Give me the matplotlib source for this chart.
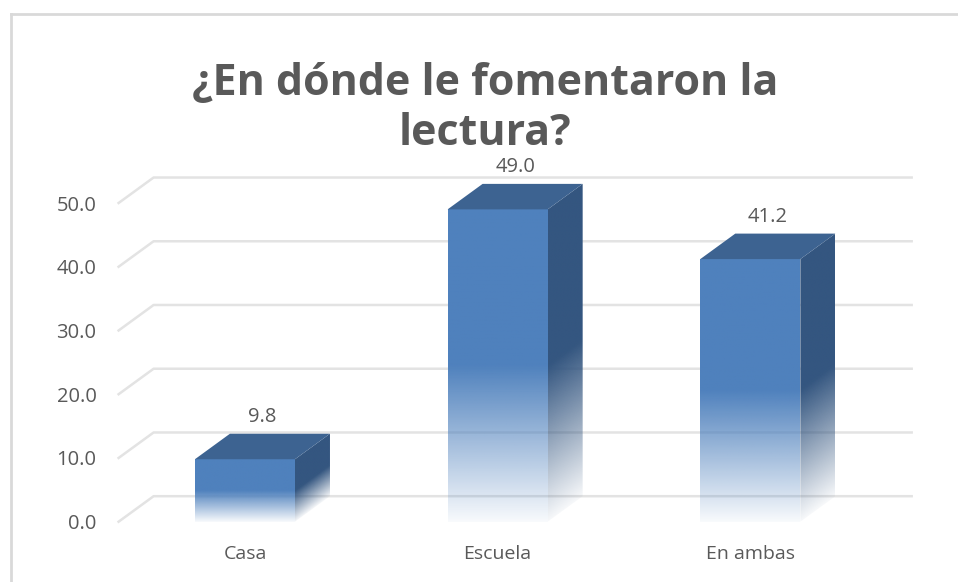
import numpy as np
import matplotlib.pyplot as plt
from matplotlib.patches import Polygon
from matplotlib.lines import Line2D

categories = ["Casa", "Escuela", "En ambas"]
values = [9.8, 49.0, 41.2]
yticks = [0, 10, 20, 30, 40, 50]
title = "¿En dónde le fomentaron la\nlectura?"

plt.rcParams['font.family'] = ['Open Sans', 'DejaVu Sans']

front_col = np.array([79, 129, 189]) / 255
top_col = np.array([61, 99, 145]) / 255
side_col = np.array([52, 86, 128]) / 255
grid_col = "#E3E3E3"
text_col = "#595959"

fig = plt.figure(figsize=(9.58, 5.82), dpi=100)
ax = fig.add_axes([0.1238, 0.1036, 0.7913, 0.6133])
ax.set_xlim(-0.5, 2.5)
ax.set_ylim(0, 56)

# 3D look: depth offset in data units
ddx, ddy = 0.1385, 4.0
bw = 0.396

# back-wall gridlines
for v in yticks:
    ax.plot([-0.5, -0.5 + ddx, 2.5 + ddx], [v, v + ddy, v + ddy],
            color=grid_col, lw=1.8, clip_on=False, zorder=1)


def alpha_at(v, h):
    # solid in the upper half, fading toward white at the base
    f = v / (0.5 * h)
    return np.where(f >= 1, 1.0, 0.04 + 0.96 * np.clip(f, 0, 1))


def shaded_face(verts, ext, col, h, skew):
    x0, x1, y0, y1 = ext
    nx, ny = 60, 400
    xs = np.linspace(x0, x1, nx)
    ys = np.linspace(y1, y0, ny)
    X, Y = np.meshgrid(xs, ys)
    V = Y - (X - x0) / (x1 - x0) * skew
    rgba = np.zeros((ny, nx, 4))
    rgba[..., :3] = col
    rgba[..., 3] = alpha_at(V, h)
    im = ax.imshow(rgba, extent=ext, aspect='auto', interpolation='bilinear',
                   zorder=3, clip_on=True)
    poly = Polygon(verts, closed=True, facecolor='none', edgecolor='none',
                   transform=ax.transData)
    im.set_clip_path(poly)


for i, h in enumerate(values):
    x0, x1 = i - bw / 2, i + bw / 2
    shaded_face([(x0, 0), (x1, 0), (x1, h), (x0, h)], (x0, x1, 0, h),
                front_col, h, 0)
    shaded_face([(x1, 0), (x1 + ddx, ddy), (x1 + ddx, h + ddy), (x1, h)],
                (x1, x1 + ddx, 0, h + ddy), side_col, h, ddy)
    ax.fill([x0, x1, x1 + ddx, x0 + ddx], [h, h, h + ddy, h + ddy],
            color=top_col, lw=0, zorder=4, clip_on=False)
    ax.annotate(f"{h:.1f}", (i + ddx / 2, h + ddy), xytext=(0, 5),
                textcoords='offset points', ha='center', va='bottom',
                fontsize=14.5, color=text_col)

ax.set_xlim(-0.5, 2.5)
ax.set_ylim(0, 56)
ax.set_xticks(range(len(categories)))
ax.set_xticklabels(categories)
ax.set_yticks(yticks)
ax.set_yticklabels([f"{v:.1f}" for v in yticks])
ax.tick_params(axis='x', length=0, pad=17, labelsize=14, labelcolor=text_col)
ax.tick_params(axis='y', length=0, pad=16, labelsize=14.5, labelcolor=text_col)
for s in ax.spines.values():
    s.set_visible(False)

fig.text(0.506, 0.814, title, ha='center', va='center', fontsize=31,
         fontweight='bold', color=text_col, linespacing=1.2)

# chart frame
fig.add_artist(Line2D([11 / 958, 11 / 958], [0, 1 - 13.5 / 582],
                      color="#D9D9D9", lw=2))
fig.add_artist(Line2D([11 / 958, 1], [1 - 13.5 / 582, 1 - 13.5 / 582],
                      color="#D9D9D9", lw=2))

fig.savefig("out.png", dpi=100)
